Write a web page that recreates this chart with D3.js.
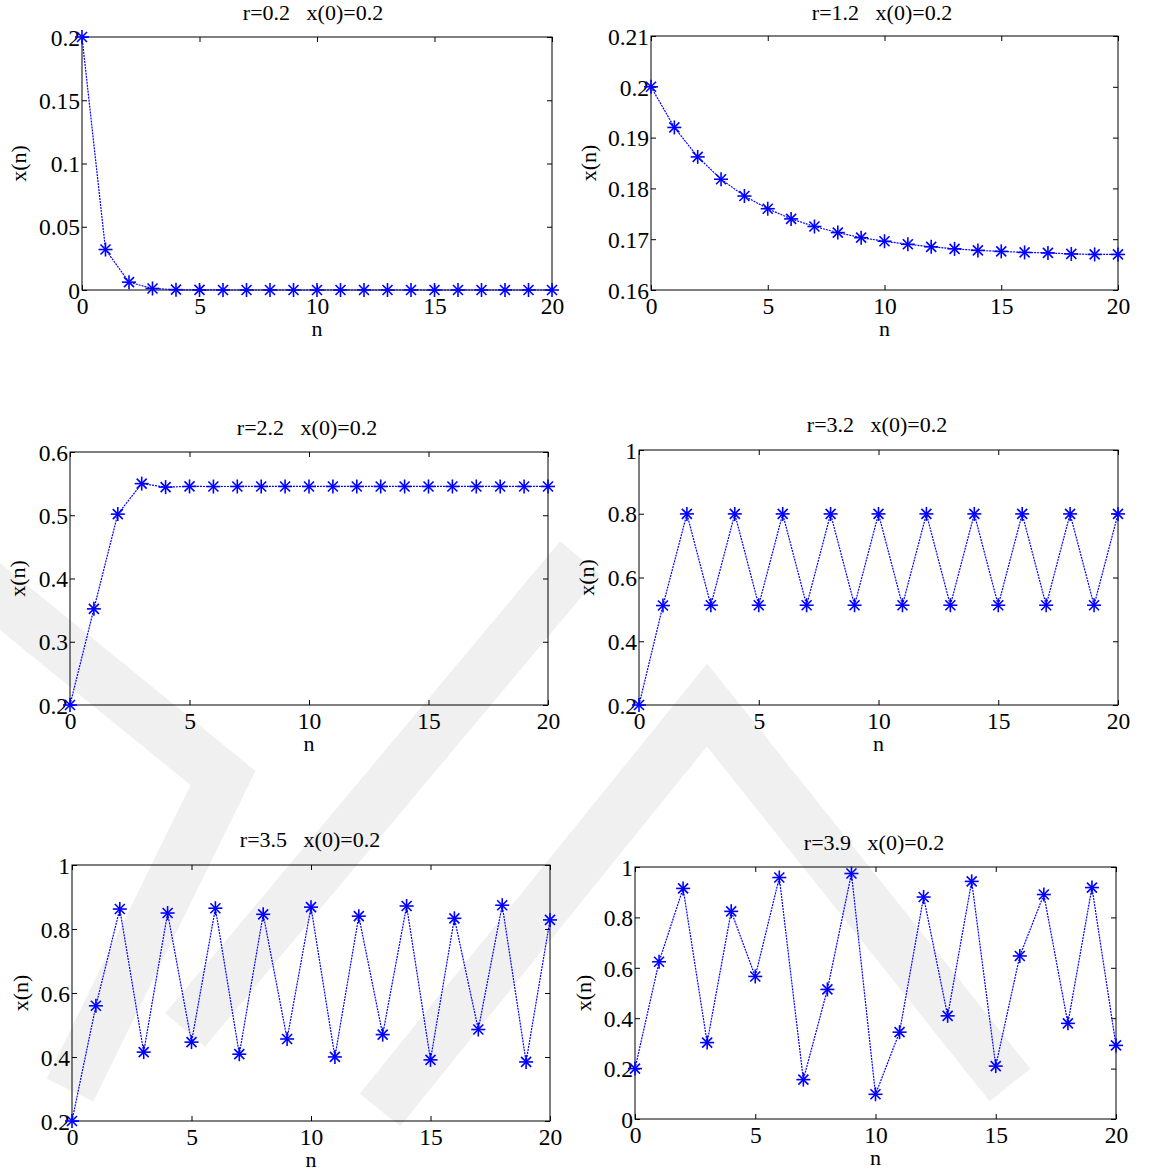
<!DOCTYPE html>
<html>
<head>
<meta charset="utf-8">
<script src="https://cdn.jsdelivr.net/npm/d3@7/dist/d3.min.js"></script>
<style>
body { margin: 0; background: #fff; }
text { font-family: "Liberation Serif", "Times New Roman", serif; }
</style>
</head>
<body>
<script>
// iteration index
var nValues = [0, 1, 2, 3, 4, 5, 6, 7, 8, 9, 10, 11, 12, 13, 14, 15, 16, 17, 18, 19, 20];
var xTicks = [0, 5, 10, 15, 20];

// x(n), one array per r
var serieR02 = [0.2, 0.032, 0.0062, 0.0012, 0.00025, 0.00005, 0.00001, 0, 0, 0, 0, 0, 0, 0, 0, 0, 0, 0, 0, 0, 0];
var serieR12 = [0.2, 0.192, 0.1862, 0.1818, 0.1785, 0.176, 0.174, 0.1725, 0.1713, 0.1703, 0.1696, 0.169, 0.1685, 0.1681, 0.1678, 0.1676, 0.1674, 0.1673, 0.1671, 0.167, 0.167];
var serieR22 = [0.2, 0.352, 0.5018, 0.55, 0.5445, 0.5456, 0.5454, 0.5455, 0.5455, 0.5455, 0.5455, 0.5455, 0.5455, 0.5455, 0.5455, 0.5455, 0.5455, 0.5455, 0.5455, 0.5455, 0.5455];
var serieR32 = [0.2, 0.512, 0.7995, 0.5129, 0.7995, 0.513, 0.7995, 0.513, 0.7995, 0.513, 0.7995, 0.513, 0.7995, 0.513, 0.7995, 0.513, 0.7995, 0.513, 0.7995, 0.513, 0.7995];
var serieR35 = [0.2, 0.56, 0.8624, 0.4153, 0.8499, 0.4465, 0.865, 0.4088, 0.8459, 0.4563, 0.8683, 0.4002, 0.8401, 0.47, 0.8719, 0.391, 0.8334, 0.4859, 0.8743, 0.3846, 0.8284];
var serieR39 = [0.2, 0.624, 0.915, 0.3032, 0.824, 0.5657, 0.9582, 0.1563, 0.5142, 0.9742, 0.098, 0.3446, 0.8809, 0.4093, 0.9429, 0.21, 0.647, 0.8907, 0.3796, 0.9184, 0.2921];

var titulos = ["r=0.2   x(0)=0.2", "r=1.2   x(0)=0.2", "r=2.2   x(0)=0.2", "r=3.2   x(0)=0.2", "r=3.5   x(0)=0.2", "r=3.9   x(0)=0.2"];
var yTicksR02 = [0, 0.05, 0.1, 0.15, 0.2];
var yTicksR12 = [0.16, 0.17, 0.18, 0.19, 0.2, 0.21];
var yTicksR22 = [0.2, 0.3, 0.4, 0.5, 0.6];
var yTicksR32 = [0.2, 0.4, 0.6, 0.8, 1];
var yTicksR35 = [0.2, 0.4, 0.6, 0.8, 1];
var yTicksR39 = [0, 0.2, 0.4, 0.6, 0.8, 1];

// layout of the six boxes
var cajas = [
    { l: 82, r: 552, t: 37, b: 290, serie: serieR02, ticks: yTicksR02, tx: 313, ty: 20, yl: 56 },
    { l: 651, r: 1118, t: 36, b: 290, serie: serieR12, ticks: yTicksR12, tx: 882, ty: 20, yl: 55 },
    { l: 70, r: 548, t: 452, b: 705, serie: serieR22, ticks: yTicksR22, tx: 307, ty: 435, yl: 45 },
    { l: 639, r: 1118, t: 450, b: 705, serie: serieR32, ticks: yTicksR32, tx: 877, ty: 432, yl: 45 },
    { l: 72, r: 550, t: 865, b: 1121, serie: serieR35, ticks: yTicksR35, tx: 310, ty: 847, yl: 44 },
    { l: 635, r: 1116, t: 867, b: 1119, serie: serieR39, ticks: yTicksR39, tx: 874, ty: 850, yl: 44 }
];

var svg = d3.select("body").append("svg").attr("width", 1152).attr("height", 1176);

// faint watermark behind everything
var marcaAgua = [
    [[-30, 572], [223, 778], [70, 1090]],
    [[580, 558], [185, 1030]],
    [[380, 1110], [707, 705], [1010, 1085]]
];
svg.append("g").selectAll("path").data(marcaAgua).enter().append("path")
    .attr("d", d3.line())
    .attr("fill", "none")
    .attr("stroke", "#f0f0f0")
    .attr("stroke-width", 52)
    .attr("stroke-linejoin", "miter");

function formato(d) {
    return String(+d.toFixed(2));
}

function asterisco(g, cx, cy) {
    var h = 7, dg = 5;
    var segs = [[-h, 0, h, 0], [0, -h, 0, h], [-dg, -dg, dg, dg], [-dg, dg, dg, -dg]];
    segs.forEach(function (s) {
        g.append("line").attr("x1", cx + s[0]).attr("y1", cy + s[1]).attr("x2", cx + s[2]).attr("y2", cy + s[3]);
    });
}

cajas.forEach(function (c, i) {
    var x = d3.scaleLinear().domain([0, 20]).range([c.l, c.r]);
    var y = d3.scaleLinear().domain(d3.extent(c.ticks)).range([c.b, c.t]);
    var g = svg.append("g");

    // inward ticks on all four sides
    var ejeX = g.append("g").attr("transform", "translate(0," + c.b + ")")
        .call(d3.axisBottom(x).tickValues(xTicks).tickSizeInner(-5).tickSizeOuter(0).tickPadding(7).tickFormat(formato));
    var ejeXTop = g.append("g").attr("transform", "translate(0," + c.t + ")")
        .call(d3.axisTop(x).tickValues(xTicks).tickSizeInner(-5).tickSizeOuter(0).tickFormat(""));
    var ejeY = g.append("g").attr("transform", "translate(" + c.l + ",0)")
        .call(d3.axisLeft(y).tickValues(c.ticks).tickSizeInner(-5).tickSizeOuter(0).tickPadding(2).tickFormat(formato));
    var ejeYDer = g.append("g").attr("transform", "translate(" + c.r + ",0)")
        .call(d3.axisRight(y).tickValues(c.ticks).tickSizeInner(-5).tickSizeOuter(0).tickFormat(""));
    [ejeX, ejeXTop, ejeY, ejeYDer].forEach(function (e) {
        e.select(".domain").remove();
        e.selectAll("line").attr("stroke", "#000");
        e.selectAll("text").attr("fill", "#000").style("font-size", "23.5px")
            .style("font-family", '"Liberation Serif", "Times New Roman", serif');
    });
    ejeX.selectAll("text").attr("dy", "0.71em");
    ejeY.selectAll("text").attr("dy", "0.35em");

    g.append("rect").attr("x", c.l).attr("y", c.t).attr("width", c.r - c.l).attr("height", c.b - c.t)
        .attr("fill", "none").attr("stroke", "#000").attr("stroke-width", 1);

    // titles and labels
    g.append("text").attr("x", c.tx).attr("y", c.ty).attr("text-anchor", "middle")
        .style("font-size", "22px").style("white-space", "pre").attr("xml:space", "preserve").text(titulos[i]);
    g.append("text").attr("x", (c.l + c.r) / 2).attr("y", c.b + 46).attr("text-anchor", "middle")
        .style("font-size", "22px").text("n");
    g.append("text").attr("transform", "translate(" + (c.l - c.yl) + "," + ((c.t + c.b) / 2) + ") rotate(-90)")
        .attr("text-anchor", "middle").style("font-size", "22px").text("x(n)");

    // series
    var linea = d3.line().x(function (d, k) { return x(nValues[k]); }).y(function (d) { return y(d); });
    g.append("path").datum(c.serie).attr("d", linea)
        .attr("fill", "none").attr("stroke", "#0000ff").attr("stroke-width", 1.2).attr("stroke-dasharray", "2,1");
    var marcas = g.append("g").attr("stroke", "#0000ff").attr("stroke-width", 1.6);
    c.serie.forEach(function (v, k) {
        asterisco(marcas, x(nValues[k]), y(v));
    });
});
</script>
</body>
</html>
